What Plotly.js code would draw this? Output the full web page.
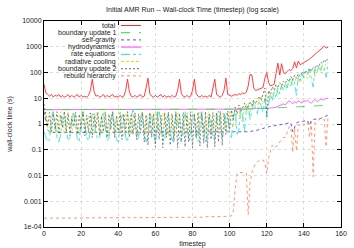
<!DOCTYPE html>
<html>
<head>
<meta charset="utf-8">
<script src="https://cdn.plot.ly/plotly-3.0.1.min.js"></script>
<style>html,body{margin:0;padding:0;background:#fff;}#chart{width:354px;height:248px;}</style>
</head>
<body>
<div id="chart"></div>
<script>
const timestep = [
0,1,2,3,4,5,6,7,8,9,10,11,12,13,14,15,16,17,18,19,
20,21,22,23,24,25,26,27,28,29,30,31,32,33,34,35,36,37,38,39,
40,41,42,43,44,45,46,47,48,49,50,51,52,53,54,55,56,57,58,59,
60,61,62,63,64,65,66,67,68,69,70,71,72,73,74,75,76,77,78,79,
80,81,82,83,84,85,86,87,88,89,90,91,92,93,94,95,96,97,98,99,
100,101,102,103,104,105,106,107,108,109,110,111,112,113,114,115,116,117,118,119,
120,121,122,123,124,125,126,127,128,129,130,131,132,133,134,135,136,137,138,139,
140,141,142,143,144,145,146,147,148,149,150,151,152,153];

const total = [
35,16,14,12,14,11,13,12,14,11,
13,11,12,14,11,13,11,12,14,11,
13,11,12,11,13,20,55,18,12,13,
11,12,14,11,13,11,12,14,11,12,
11,13,11,12,20,55,18,12,11,13,
11,12,14,11,12,25,60,15,12,11,
13,11,12,14,11,13,11,12,11,13,
11,12,20,55,15,12,11,13,11,12,
20,55,15,12,11,13,11,12,11,13,
11,22,55,14,12,11,13,20,60,14,
13,12,13,14,13,15,14,16,15,17,
30,85,80,25,20,21,22,24,26,60,
100,40,30,32,35,90,230,80,220,100,
90,110,130,120,140,260,150,280,200,220,
250,280,300,330,380,420,480,550,650,750,
900,1050,900,950];

const boundaryUpdate1 = [
3.6,3.6,3.6,3.6,3.6,3.6,3.6,3.6,3.6,3.6,
3.6,3.6,3.6,3.6,3.6,3.6,3.6,3.6,3.6,3.6,
3.6,3.6,3.6,3.6,3.6,3.6,3.6,3.6,3.6,3.6,
3.6,3.6,3.6,3.6,3.6,3.6,3.6,3.6,3.6,3.6,
3.6,3.6,3.6,3.6,3.6,3.6,3.6,3.6,3.6,3.6,
3.6,3.6,3.6,3.6,3.6,3.6,3.6,3.6,3.6,3.6,
3.6,3.6,3.6,3.6,3.6,3.6,3.6,3.6,3.6,3.6,
3.6,3.6,3.6,3.6,3.6,3.6,3.6,3.6,3.6,3.6,
3.6,3.6,3.6,3.6,3.6,3.6,3.6,3.6,3.6,3.6,
3.6,3.6,3.6,3.6,3.6,3.6,3.6,3.6,3.6,3.6,
3.6,3.7,3.7,3.7,3.7,3.7,3.8,3.8,3.8,3.8,
3.8,3.9,3.9,3.9,3.9,4.0,4.0,4.0,4.0,4.1,
4.1,4.1,4.2,4.2,4.2,4.3,4.3,4.3,4.4,4.4,
4.4,4.5,4.5,4.5,4.6,4.6,4.6,4.7,4.7,4.8,
4.8,4.8,4.9,4.9,5.0,5.0,5.0,5.1,5.1,5.2,
5.2,5.3,5.4,5.5];

const selfGravity = [
3.0,1.5,0.6,0.5,0.48,0.47,0.47,0.47,0.47,0.47,
0.47,0.47,0.47,0.47,0.47,0.47,0.47,0.47,0.47,0.47,
0.47,0.47,0.47,0.47,0.47,0.47,0.47,0.47,0.47,0.47,
0.47,0.47,0.47,0.47,0.47,0.47,0.47,0.47,0.47,0.47,
0.47,0.47,0.47,0.47,0.47,0.47,0.47,0.47,0.47,0.47,
0.47,0.47,0.47,0.47,0.47,0.47,0.47,0.47,0.47,0.47,
0.47,0.47,0.47,0.47,0.47,0.47,0.47,0.47,0.47,0.47,
0.47,0.47,0.47,0.47,0.47,0.47,0.47,0.47,0.47,0.47,
0.47,0.47,0.47,0.47,0.47,0.47,0.47,0.47,0.47,0.47,
0.47,0.47,0.47,0.47,0.47,0.47,0.47,0.47,0.47,0.47,
0.47,0.47,0.47,0.47,0.47,0.47,0.47,0.47,0.48,0.49,
0.5,0.51,0.52,0.53,0.55,0.57,0.6,0.64,0.68,0.72,
0.75,0.78,0.8,0.82,0.85,0.88,0.9,0.92,0.95,0.98,
1.0,1.05,1.1,1.1,0.5,0.7,1.1,1.2,1.2,1.25,
1.3,1.3,1.35,0.9,1.4,1.5,1.5,1.55,1.6,1.65,
1.8,1.9,2.0,2.2];

const hydrodynamics = [
3.6,3.6,3.6,3.6,3.6,3.6,3.6,3.6,3.6,3.6,
3.6,3.6,3.6,3.6,3.6,3.6,3.6,3.6,3.6,3.6,
3.6,3.6,3.6,3.6,3.6,3.6,3.6,3.6,3.6,3.6,
3.6,3.6,3.6,3.6,3.6,3.6,3.6,3.6,3.6,3.6,
3.6,3.6,3.6,3.6,3.6,3.6,3.6,3.6,3.6,3.6,
3.6,3.6,3.6,3.6,3.6,3.6,3.6,3.6,3.6,3.6,
3.6,3.6,3.6,3.6,3.6,3.6,3.6,3.6,3.6,3.6,
3.6,3.6,3.6,3.6,3.6,3.6,3.6,3.6,3.6,3.6,
3.6,3.6,3.6,3.6,3.6,3.6,3.6,3.6,3.6,3.6,
3.6,3.6,3.6,3.6,3.6,3.6,3.6,3.6,3.6,3.6,
3.6,3.7,3.7,3.7,3.7,3.7,3.8,3.8,3.8,3.8,
3.8,3.9,3.9,3.9,3.9,4.0,4.0,4.0,4.0,4.1,
4.1,4.1,4.2,4.2,4.3,4.5,4.8,5.0,5.5,6.0,
5.5,6.5,8.0,7.0,6.0,7.5,6.5,8.0,7.0,6.5,
8.0,7.5,8.5,7.0,6.5,8.0,9.0,7.5,8.0,9.5,
8.5,9.0,10,10];

const rateEquations = [
0.5,0.3,0.2,0.25,1.5,3.0,1.2,0.3,0.2,0.4,
2.5,2.8,0.6,0.25,0.3,1.8,3.0,0.8,0.25,0.2,
1.2,2.8,1.0,0.3,0.22,0.5,2.5,2.0,0.4,0.25,
0.3,2.0,2.6,0.6,0.22,0.3,1.5,3.0,1.0,0.25,
0.2,0.8,2.5,1.5,0.3,0.2,1.0,2.2,3.5,0.8,
0.25,0.3,1.8,2.8,0.5,0.2,0.3,2.0,2.5,0.4,
0.2,0.6,3.0,1.2,0.25,0.22,1.5,2.5,0.5,0.2,
0.4,2.8,1.5,0.3,0.2,1.0,3.0,0.8,0.22,0.3,
2.2,2.0,0.3,0.2,1.2,3.0,0.6,0.2,0.4,2.5,
1.8,0.3,0.25,1.5,3.2,0.8,0.3,0.6,2.8,2.0,
0.5,0.3,1.8,4.0,0.4,0.6,4.5,2.0,0.5,3.5,
6,1.5,3,7,4,2.5,8,5,3,10,
1.8,6,14,8,18,10,25,15,30,20,
40,25,50,30,60,40,13,70,50,90,
60,110,80,130,60,27,140,100,170,120,
200,150,65,230];

const radiativeCooling = [
1.5,2.8,0.8,0.4,2.5,3.0,0.6,0.35,1.8,3.0,
1.0,0.4,2.2,2.8,0.5,0.45,2.6,2.5,0.7,0.4,
2.0,3.0,0.8,0.35,2.4,2.6,0.5,0.4,2.8,2.2,
0.6,0.4,2.5,3.0,0.7,0.35,2.0,2.8,0.5,0.45,
2.7,2.4,0.6,0.35,2.2,3.0,0.8,0.4,2.6,2.5,
0.5,0.35,2.4,2.9,0.7,0.4,2.1,2.7,0.5,0.35,
2.8,2.3,0.6,0.4,2.5,3.0,0.7,0.35,2.2,2.6,
0.5,0.4,2.7,2.4,0.6,0.35,2.3,3.0,0.8,0.4,
2.5,2.6,0.5,0.35,2.8,2.2,0.6,0.4,2.4,3.0,
0.7,0.35,2.0,2.7,0.5,0.45,2.6,2.5,0.8,0.5,
2.5,3.2,1.0,0.8,3.5,4.0,1.5,1.2,5,6,
2.5,2.5,7,8,4,4,10,12,6,7,
15,18,9,12,22,25,14,18,35,40,
22,28,50,55,30,40,70,75,40,55,
90,100,55,70,120,130,70,100,170,180,
90,160,230,250];

const boundaryUpdate2 = [
6,2.5,0.8,2.8,0.5,2.5,0.6,3.0,0.4,2.2,
0.7,3.0,0.5,2.6,0.35,2.0,0.8,2.8,0.4,2.4,
0.6,3.0,0.35,2.2,0.5,2.7,0.3,2.5,0.7,2.9,
0.35,2.0,0.5,2.8,0.3,2.4,0.6,3.0,0.3,2.1,
0.45,2.8,0.25,2.5,0.5,3.0,0.3,2.2,0.4,2.7,
0.25,2.5,0.45,2.9,0.2,2.3,0.15,2.8,0.3,2.5,
0.13,3.0,0.25,2.2,0.12,2.7,0.3,2.9,0.15,2.4,
0.2,3.0,0.12,2.6,0.25,2.8,0.13,2.3,0.2,3.0,
0.12,2.5,0.3,2.9,0.14,2.6,0.18,3.0,0.12,2.4,
0.25,2.8,0.13,2.7,0.2,3.1,0.15,2.6,0.4,3.2,
0.6,3.5,1.5,4.5,2.5,5.5,3,4.2,6.5,4,
5,7.5,5,8.5,6,9,12,8,15,25,
2,20,14,28,20,35,25,40,30,45,
38,55,45,70,50,80,60,90,70,110,
85,120,100,150,110,170,140,200,160,260,
220,320,250,400];

const rebuildHierarchy = [
2.2e-4,2.2e-4,2.2e-4,2.2e-4,2.2e-4,2.2e-4,2.2e-4,2.2e-4,2.2e-4,2.2e-4,
2.2e-4,2.2e-4,2.2e-4,2.2e-4,2.2e-4,2.2e-4,2.2e-4,2.2e-4,2.2e-4,2.2e-4,
2.2e-4,2.2e-4,2.2e-4,2.2e-4,2.2e-4,2.2e-4,2.2e-4,2.2e-4,2.2e-4,2.2e-4,
2.2e-4,2.2e-4,2.2e-4,2.2e-4,2.2e-4,2.2e-4,2.2e-4,2.2e-4,2.2e-4,2.2e-4,
2.2e-4,2.2e-4,2.2e-4,2.2e-4,2.3e-4,2.5e-4,2.3e-4,2.3e-4,2.3e-4,2.3e-4,
2.3e-4,2.3e-4,2.3e-4,2.3e-4,2.3e-4,2.3e-4,2.3e-4,2.3e-4,2.3e-4,2.3e-4,
2.3e-4,2.3e-4,2.3e-4,2.3e-4,2.3e-4,2.3e-4,2.3e-4,2.3e-4,2.3e-4,2.3e-4,
2.3e-4,2.3e-4,2.3e-4,2.3e-4,2.3e-4,2.3e-4,2.3e-4,2.3e-4,2.3e-4,2.3e-4,
2.3e-4,2.3e-4,2.3e-4,2.3e-4,2.3e-4,2.3e-4,2.4e-4,2.5e-4,2.5e-4,2.5e-4,
2.5e-4,2.5e-4,2.5e-4,2.5e-4,2.5e-4,2.5e-4,2.5e-4,2.5e-4,2.5e-4,2.6e-4,
2.6e-4,2.7e-4,4e-4,3e-3,0.012,0.013,0.013,0.013,0.013,0.012,
3e-4,0.005,0.013,0.02,0.03,0.035,0.038,0.04,0.04,0.03,
0.012,0.05,0.09,0.15,0.12,0.13,0.15,0.2,0.25,0.3,
0.3,0.5,0.75,0.8,0.08,0.7,0.09,0.9,0.9,1.0,
0.9,1.1,1.2,0.3,1.2,0.009,1.1,1.3,1.5,1.6,
1.4,1.5,0.13,2.0];

const seriesNames = ["total","boundary update 1","self-gravity","hydrodynamics","rate equations","radiative cooling","boundary update 2","rebuild hierarchy"];
const seriesData = [total, boundaryUpdate1, selfGravity, hydrodynamics, rateEquations, radiativeCooling, boundaryUpdate2, rebuildHierarchy];
const colors = ["#ff2a2a","#33dd33","#4a4aff","#ff44ff","#22dddd","#e0e000","#666666","#ff8a5a"];
const dashes = ["solid","dash","dot","solid","dashdot","3px,2px","2px,2px","dot"];
const widths = [0.9,0.8,0.9,0.8,0.8,0.8,0.8,0.9];
// draw order: hydrodynamics beneath boundary update 1, total on top
const drawOrder = [3,1,2,7,5,4,6,0];

const traces = drawOrder.map(i=>({
  x: timestep, y: seriesData[i], type:'scatter', mode:'lines', name:seriesNames[i],
  line:{color:colors[i], width:widths[i], dash:dashes[i]}, showlegend:false
}));

const L=44, R=13, T=21, B=21, W=354, H=248;
const pw = W-L-R, ph = H-T-B;
const annotations=[];
const legendY0 = 25.5, legendStep = 7.2;
// legend key samples drawn on a hidden overlay axis with a 0..1 range (paper-like)
seriesNames.forEach((n,i)=>{
  const py = legendY0 + legendStep*i;
  const yp = (H-B-py)/ph;
  annotations.push({xref:'paper', yref:'paper', x:(118-L)/pw, y:yp, xanchor:'right', yanchor:'middle',
    text:n, showarrow:false, font:{family:'Liberation Sans, Arial, sans-serif', size:7, color:'#222'}});
  traces.push({x:[(121-L)/pw,(141-L)/pw], y:[yp,yp], xaxis:'x2', yaxis:'y2', type:'scatter', mode:'lines',
    line:{color:colors[i], width:1, dash:dashes[i]}, showlegend:false, hoverinfo:'skip'});
});

const font = {family:'Liberation Sans, Arial, sans-serif', size:7, color:'#222'};
const layout = {
  width:W, height:H, margin:{l:L, r:R, t:T, b:B, pad:0},
  paper_bgcolor:'#fff', plot_bgcolor:'#fff', font:font,
  title:{text:'Initial AMR Run -- Wall-clock Time (timestep) (log scale)', font:{family:font.family,size:7,color:'#222'}, x:0.5, xref:'paper', y:1-10/H, yanchor:'middle'},
  xaxis:{range:[0,160], tickvals:[0,20,40,60,80,100,120,140,160], ticks:'inside', ticklen:4, tickcolor:'#000', tickwidth:1,
    showline:true, linecolor:'#000', linewidth:1, mirror:'ticks', showgrid:true, gridcolor:'#c8c8c8', griddash:'dot', gridwidth:0.6,
    zeroline:false, tickfont:font, title:{text:'timestep', font:font, standoff:5}},
  yaxis:{type:'log', range:[-4,4], tickvals:[1e-4,1e-3,1e-2,0.1,1,10,100,1000,10000],
    ticktext:['1e-04','0.001','0.01','0.1','1','10','100','1000','10000'],
    ticks:'inside', ticklen:4, tickcolor:'#000', tickwidth:1,
    showline:true, linecolor:'#000', linewidth:1, mirror:'ticks', showgrid:true, gridcolor:'#c8c8c8', griddash:'dot', gridwidth:0.6,
    zeroline:false, tickfont:font, title:{text:'wall-clock time (s)', font:font, standoff:8}},
  xaxis2:{overlaying:'x', range:[0,1], visible:false, fixedrange:true},
  yaxis2:{overlaying:'y', range:[0,1], visible:false, fixedrange:true},
  annotations:annotations, showlegend:false
};
Plotly.newPlot('chart', traces, layout, {staticPlot:true, displayModeBar:false});
</script>
</body>
</html>
